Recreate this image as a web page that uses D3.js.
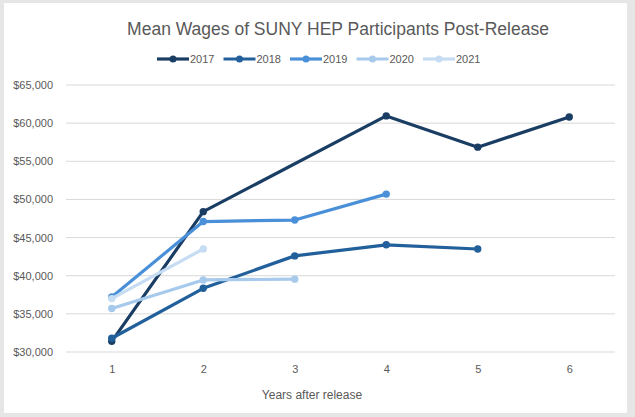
<!DOCTYPE html>
<html>
<head>
<meta charset="utf-8">
<script src="https://cdn.jsdelivr.net/npm/d3@7"></script>
<style>
  body { margin: 0; background: #e6e6e6; }
  svg { display: block; font-family: "Liberation Sans", Arial, sans-serif; }
</style>
</head>
<body>
<div id="canvas"></div>
<script>
// data
const years = [1, 2, 3, 4, 5, 6];
const cohorts = ["2017", "2018", "2019", "2020", "2021"];
const wages2017 = [31400, 48400, null, 60950, 56850, 60800];
const wages2018 = [31800, 38350, 42600, 44050, 43500, null];
const wages2019 = [37200, 47100, 47300, 50700, null, null];
const wages2020 = [35700, 39450, 39550, null, null, null];
const wages2021 = [37000, 43500, null, null, null, null];
const yTicks = [30000, 35000, 40000, 45000, 50000, 55000, 60000, 65000];
const colors = ["#1a3d64", "#22609b", "#4a90d9", "#a6c9ec", "#c6dcf2"];

const series = [wages2017, wages2018, wages2019, wages2020, wages2021].map((v, i) => ({
  name: cohorts[i],
  color: colors[i],
  points: years.map((yr, j) => ({ yr: yr, v: v[j] })).filter(d => d.v != null)
}));

const width = 635;
const height = 417;
const margin = { top: 85, left: 66, bottom: 65, right: 20 };
const iwidth = width - margin.left - margin.right;
const iheight = height - margin.top - margin.bottom;

const svg = d3.select("#canvas").append("svg")
  .attr("width", width)
  .attr("height", height);

// white chart area inside the grey frame
svg.append("rect")
  .attr("x", 4).attr("y", 3)
  .attr("width", 623).attr("height", 410)
  .style("fill", "#fff");

const g = svg.append("g")
  .attr("transform", `translate(${margin.left},${margin.top})`);

const x = d3.scalePoint().domain(years).range([0, iwidth]).padding(0.5);
const y = d3.scaleLinear().domain([30000, 65000]).range([iheight, 0]);

// gridlines
g.append("g").selectAll("line")
  .data(yTicks)
  .join("line")
  .attr("x1", 0).attr("x2", iwidth)
  .attr("y1", d => y(d)).attr("y2", d => y(d))
  .style("stroke", "#d9d9d9")
  .style("stroke-width", 1);

const yAxis = g.append("g")
  .attr("transform", "translate(-10,0)")
  .call(d3.axisLeft(y).tickValues(yTicks).tickSize(0).tickFormat(d3.format("$,")));
yAxis.select(".domain").remove();
yAxis.selectAll("text").style("fill", "#595959").style("font-size", "11px");

const xAxis = g.append("g")
  .attr("transform", `translate(0,${iheight + 10})`)
  .call(d3.axisBottom(x).tickSize(0));
xAxis.select(".domain").remove();
xAxis.selectAll("text").style("fill", "#595959").style("font-size", "11px");

const line = d3.line().x(d => x(d.yr)).y(d => y(d.v));

const lines = g.selectAll(".series")
  .data(series)
  .join("g")
  .attr("class", "series");

lines.append("path")
  .attr("d", d => line(d.points))
  .style("fill", "none")
  .style("stroke", d => d.color)
  .style("stroke-width", 3.2)
  .style("stroke-linejoin", "round")
  .style("stroke-linecap", "round");

lines.selectAll("circle")
  .data(d => d.points.map(p => ({ ...p, color: d.color })))
  .join("circle")
  .attr("cx", d => x(d.yr))
  .attr("cy", d => y(d.v))
  .attr("r", 3.7)
  .style("fill", d => d.color);

// title
svg.append("text")
  .attr("x", 338).attr("y", 35)
  .attr("text-anchor", "middle")
  .style("font-size", "17.5px")
  .style("fill", "#595959")
  .text("Mean Wages of SUNY HEP Participants Post-Release");

// axis title
svg.append("text")
  .attr("x", 312).attr("y", 399)
  .attr("text-anchor", "middle")
  .style("font-size", "12px")
  .style("fill", "#595959")
  .text("Years after release");

// legend
const legend = svg.append("g").attr("transform", "translate(157,59)");
const item = legend.selectAll("g")
  .data(series)
  .join("g")
  .attr("transform", (d, i) => `translate(${i * 66.5},0)`);
item.append("line")
  .attr("x1", 0).attr("x2", 32)
  .style("stroke", d => d.color)
  .style("stroke-width", 3.2);
item.append("circle")
  .attr("cx", 16).attr("r", 3.5)
  .style("fill", d => d.color);
item.append("text")
  .attr("x", 33).attr("y", 4)
  .style("font-size", "11px")
  .style("fill", "#595959")
  .text(d => d.name);
</script>
</body>
</html>
